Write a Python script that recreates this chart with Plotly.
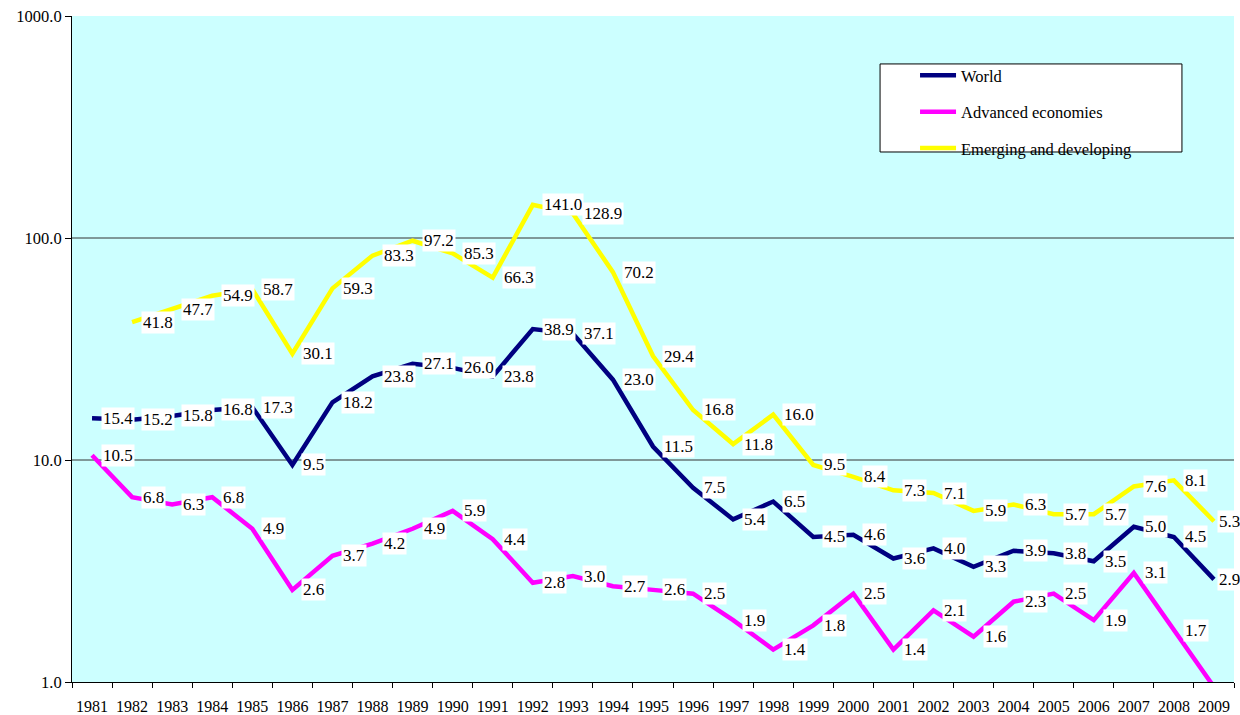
import numpy as np
import plotly.graph_objects as go

years = [str(y) for y in range(1981, 2010)]

world = [15.4, 15.2, 15.8, 16.8, 17.3, 9.5, 18.2, 23.8, 27.1, 26.0, 23.8, 38.9, 37.1, 23.0,
         11.5, 7.5, 5.4, 6.5, 4.5, 4.6, 3.6, 4.0, 3.3, 3.9, 3.8, 3.5, 5.0, 4.5, 2.9]
advanced = [10.5, 6.8, 6.3, 6.8, 4.9, 2.6, 3.7, 4.2, 4.9, 5.9, 4.4, 2.8, 3.0, 2.7,
            2.6, 2.5, 1.9, 1.4, 1.8, 2.5, 1.4, 2.1, 1.6, 2.3, 2.5, 1.9, 3.1, 1.7, 0.95]
emerging = [None, 41.8, 47.7, 54.9, 58.7, 30.1, 59.3, 83.3, 97.2, 85.3, 66.3, 141.0, 128.9, 70.2,
            29.4, 16.8, 11.8, 16.0, 9.5, 8.4, 7.3, 7.1, 5.9, 6.3, 5.7, 5.7, 7.6, 8.1, 5.3]

series_names = ["World", "Advanced economies", "Emerging and developing"]
series_values = [world, advanced, emerging]
series_colors = ["#000080", "#FF00FF", "#FFFF00"]

y_tickvals = [1, 10, 100, 1000]
y_ticktext = ["1.0", "10.0", "100.0", "1000.0"]
grid_values = [10, 100]

FONT = "Liberation Serif, Times New Roman, serif"

fig = go.Figure()
last = len(years) - 1
for i, (name, vals, col) in enumerate(zip(series_names, series_values, series_colors)):
    fig.add_trace(go.Scatter(
        x=years, y=vals, name=name, mode="lines",
        line=dict(color=col, width=4.5),
        legendgroup=f"g{i}", connectgaps=False,
    ))
    for idx, v in enumerate(vals):
        if v is None or v < 1:
            continue
        fig.add_annotation(
            x=idx, y=np.log10(v), xref="x", yref="y",
            text=f"{v:.1f}", showarrow=False,
            xanchor="left", yanchor="middle", xshift=9 if idx < last else 3,
            bgcolor="white", borderpad=1,
            font=dict(family=FONT, size=17, color="black"),
        )

for g in grid_values:
    fig.add_shape(type="line", xref="paper", x0=0, x1=1, yref="y", y0=g, y1=g,
                  line=dict(color="#333333", width=1), layer="below")

# legend frame
fig.add_shape(type="rect", xref="paper", yref="paper",
              x0=0.6954, x1=0.9552, y0=0.7958, y1=0.928,
              fillcolor="white", line=dict(color="black", width=1), layer="above")

fig.update_layout(
    width=1240, height=715,
    paper_bgcolor="white", plot_bgcolor="#CCFFFF",
    margin=dict(l=72, r=6, t=16, b=33, autoexpand=False),
    font=dict(family=FONT, size=16, color="black"),
    legend=dict(
        x=0.7255, y=0.937, xanchor="left", yanchor="top",
        bgcolor="rgba(0,0,0,0)", borderwidth=0,
        font=dict(family=FONT, size=16.5, color="black"),
        tracegroupgap=12, itemwidth=36,
    ),
    showlegend=True,
)

fig.update_xaxes(
    type="category", showgrid=False, showline=True, linecolor="black", linewidth=1,
    ticks="outside", tickson="boundaries", ticklen=5, tickcolor="black",
    tickfont=dict(family=FONT, size=16), ticklabelstandoff=10, zeroline=False,
    range=[-0.5, len(years) - 0.5], tickangle=0, ticklabeloverflow="allow",
)
fig.update_yaxes(
    type="log", range=[0, 3], showgrid=False, showline=True, linecolor="black", linewidth=1,
    ticks="outside", ticklen=6, tickcolor="black",
    tickvals=y_tickvals, ticktext=y_ticktext,
    tickfont=dict(family=FONT, size=16.5), zeroline=False, ticklabeloverflow="allow",
)

fig.write_html(
    "out.html",
    config={"displayModeBar": False},
    post_script="document.body.style.margin='0';document.body.style.overflow='hidden';",
)
